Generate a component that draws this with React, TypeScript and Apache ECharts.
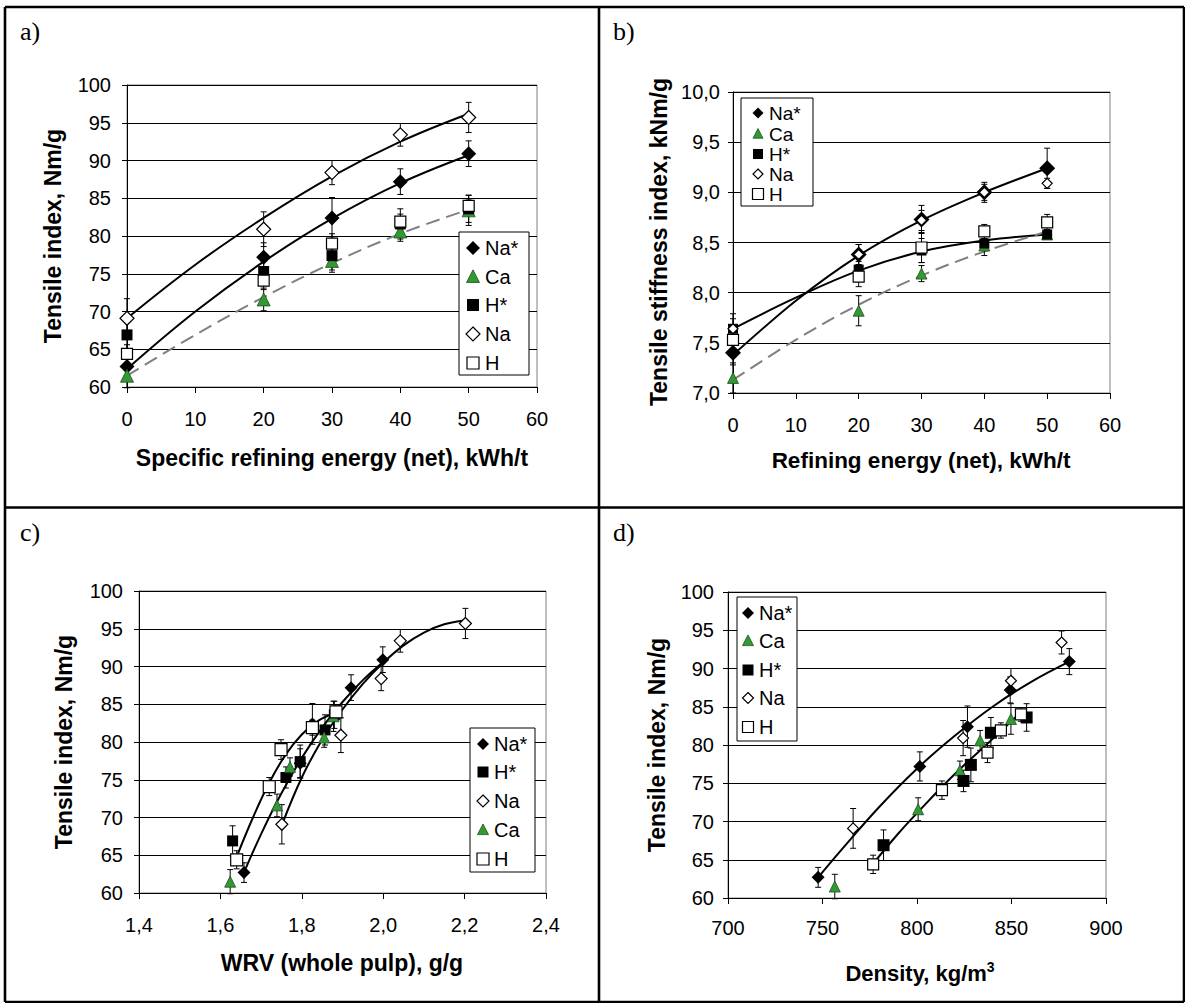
import React, { useEffect, useRef } from "react";
import * as echarts from "echarts";

// ---------------- data ----------------
const energy = [0, 20, 30, 40, 50];

// tensile index, Nm/g
const tiNaStar = [62.7, 77.2, 82.4, 87.2, 90.9];
const tiCa = [61.5, 71.6, 76.7, 80.6, 83.4];
const tiHStar = [66.9, 75.3, 77.4, 81.6, 83.6];
const tiNa = [69.1, 80.9, 88.4, 93.4, 95.7];
const tiH = [64.4, 74.1, 79.0, 81.9, 84.0];

const errTiNaStar = [1.3, 1.9, 2.7, 1.7, 1.7];
const errTiCa = [1.6, 1.5, 1.2, 1.3, 2.0];
const errTiHStar = [2.0, 1.4, 2.2, 2.0, 1.8];
const errTiNa = [2.6, 2.3, 1.6, 1.5, 2.0];
const errTiH = [1.2, 1.2, 1.3, 1.0, 0.9];

// tensile stiffness index, kNm/g
const stNaStar = [7.4, 8.38, 8.73, 9.0, 9.24];
const stCa = [7.15, 7.82, 8.19, 8.47, 8.58];
const stHStar = [7.64, 8.23, 8.42, 8.49, 8.58];
const stNa = [7.64, 8.38, 8.72, 9.0, 9.09];
const stH = [7.53, 8.16, 8.45, 8.61, 8.7];

const errStNaStar = [0.12, 0.1, 0.14, 0.1, 0.2];
const errStCa = [0.15, 0.15, 0.08, 0.1, 0.05];
const errStHStar = [0.1, 0.08, 0.12, 0.05, 0.05];
const errStNa = [0.15, 0.1, 0.1, 0.08, 0.05];
const errStH = [0.1, 0.1, 0.15, 0.07, 0.08];

// WRV (whole pulp), g/g
const wrvNaStar = [1.658, 1.796, 1.826, 1.921, 1.999];
const wrvHStar = [1.63, 1.761, 1.796, 1.857, 1.88];
const wrvNa = [1.751, 1.896, 1.995, 2.042, 2.202];
const wrvCa = [1.624, 1.739, 1.771, 1.855, 1.878];
const wrvH = [1.64, 1.72, 1.749, 1.826, 1.884];

// density, kg/m3
const denNaStar = [747.7, 801.5, 826.7, 849.3, 880.6];
const denCa = [756.5, 800.6, 822.7, 833.4, 849.7];
const denHStar = [782.3, 824.6, 828.5, 839.1, 858.0];
const denNa = [766.2, 824.4, 849.7, 876.5];
const denH = [776.8, 813.2, 837.3, 844.4, 855.0];

// trend curves
const fitAx = [0, 10, 20, 30, 40, 50];
const fitANa = [69.1, 76.2, 82.4, 87.9, 92.5, 96.2];
const fitANaStar = [62.4, 70.0, 76.6, 82.3, 87.0, 90.7];
const fitACa = [61.5, 66.9, 71.9, 76.4, 80.3, 83.5];

const fitBx = [0, 10, 20, 30, 40, 50];
const fitBNaStar = [7.38, 7.92, 8.37, 8.72, 9.0, 9.24];
const fitBHStar = [7.64, 7.95, 8.22, 8.41, 8.52, 8.58];
const fitBCa = [7.13, 7.53, 7.88, 8.17, 8.41, 8.61];

const fitCHx = [1.64, 1.68, 1.72, 1.76, 1.8, 1.84, 1.88];
const fitCHy = [64.8, 70.0, 74.6, 78.3, 81.0, 82.8, 83.8];
const fitCNaStarX = [1.657, 1.7, 1.75, 1.8, 1.85, 1.9, 1.95, 2.0];
const fitCNaStarY = [62.6, 67.8, 73.2, 77.9, 81.9, 85.3, 88.2, 90.6];
const fitCNaX = [1.751, 1.8, 1.85, 1.9, 1.95, 2.0, 2.05, 2.1, 2.15, 2.2];
const fitCNaY = [69.0, 75.3, 80.3, 84.3, 87.7, 90.5, 92.8, 94.5, 95.6, 96.1];

const fitDNaStarX = [747.7, 760, 780, 800, 820, 840, 860, 880.6];
const fitDNaStarY = [62.7, 66.3, 71.9, 76.9, 81.2, 85.0, 88.2, 90.9];
const fitDHX = [776.8, 790, 800, 820, 840, 855];
const fitDHY = [64.5, 68.4, 71.1, 76.2, 80.8, 84.3];

// ---------------- helpers ----------------
const FONT = "'Liberation Sans', Arial, Helvetica, sans-serif";
const SERIF = "'Liberation Serif', 'Times New Roman', serif";
const GREEN = "#339933";

type Kind = "NaStar" | "Ca" | "HStar" | "Na" | "H";

const kindStyle: Record<Kind, any> = {
  NaStar: { symbol: "diamond", itemStyle: { color: "#000", opacity: 1 } },
  Na: { symbol: "diamond", itemStyle: { color: "#fff", borderColor: "#000", borderWidth: 1.2, opacity: 1 } },
  HStar: { symbol: "rect", itemStyle: { color: "#000", opacity: 1 } },
  H: { symbol: "rect", itemStyle: { color: "#fff", borderColor: "#000", borderWidth: 1.2, opacity: 1 } },
  Ca: { symbol: "triangle", itemStyle: { color: GREEN, borderColor: "#1f4f1f", borderWidth: 0.8, opacity: 1 } },
};
const kindName: Record<Kind, string> = { NaStar: "Na*", Ca: "Ca", HStar: "H*", Na: "Na", H: "H" };

function scatter(kind: Kind, xs: number[], ys: number[], gi: number, size: number) {
  return {
    type: "scatter",
    name: kindName[kind],
    xAxisIndex: gi,
    yAxisIndex: gi,
    data: xs.map((x, i) => [x, ys[i]]),
    symbol: kindStyle[kind].symbol,
    symbolSize: size,
    itemStyle: kindStyle[kind].itemStyle,
    z: 4,
    silent: true,
  };
}

function errorBars(groups: [number[], number[], number[]][], gi: number) {
  const rows: number[][] = [];
  groups.forEach(([xs, ys, es]) => {
    xs.forEach((x, i) => rows.push([x, ys[i], es[i]]));
  });
  return {
    type: "custom",
    xAxisIndex: gi,
    yAxisIndex: gi,
    z: 3,
    silent: true,
    data: rows,
    encode: { x: 0, y: 1 },
    renderItem: (params: any, api: any) => {
      const x = api.value(0);
      const y = api.value(1);
      const e = api.value(2);
      const p1 = api.coord([x, y + e]);
      const p2 = api.coord([x, y - e]);
      const st = { stroke: "#000", lineWidth: 1 };
      return {
        type: "group",
        children: [
          { type: "line", shape: { x1: p1[0], y1: p1[1], x2: p2[0], y2: p2[1] }, style: st },
          { type: "line", shape: { x1: p1[0] - 3, y1: p1[1], x2: p1[0] + 3, y2: p1[1] }, style: st },
          { type: "line", shape: { x1: p2[0] - 3, y1: p2[1], x2: p2[0] + 3, y2: p2[1] }, style: st },
        ],
      };
    },
  };
}

function fit(xs: number[], ys: number[], gi: number, dashed = false, smooth = 0.4) {
  return {
    type: "line",
    xAxisIndex: gi,
    yAxisIndex: gi,
    data: xs.map((x, i) => [x, ys[i]]),
    showSymbol: false,
    symbol: "none",
    smooth,
    silent: true,
    z: 2,
    lineStyle: dashed
      ? { color: "#808080", width: 2, type: [14, 7] }
      : { color: "#000", width: 2 },
  };
}

const comma1 = (v: number) => v.toFixed(1).replace(".", ",");

function xAx(gi: number, min: number, max: number, interval: number, fmt?: any, margin = 22) {
  return {
    type: "value",
    gridIndex: gi,
    min,
    max,
    interval,
    axisLine: { show: true, onZero: false, lineStyle: { color: "#000", width: 1 } },
    axisTick: { show: true, length: 6, lineStyle: { color: "#000" } },
    axisLabel: { color: "#000", fontSize: 20, fontFamily: FONT, margin, formatter: fmt, showMinLabel: true, showMaxLabel: true },
    splitLine: { show: false },
  };
}
function yAx(gi: number, min: number, max: number, interval: number, fmt?: any, margin = 16) {
  return {
    type: "value",
    gridIndex: gi,
    min,
    max,
    interval,
    axisLine: { show: true, onZero: false, lineStyle: { color: "#000", width: 1 } },
    axisTick: { show: true, length: 5, lineStyle: { color: "#000" } },
    axisLabel: { color: "#000", fontSize: 20, fontFamily: FONT, margin, formatter: fmt, showMinLabel: true, showMaxLabel: true },
    splitLine: { show: true, lineStyle: { color: "#000", width: 1 } },
  };
}

function legendSymbol(kind: Kind, cx: number, cy: number, s: number) {
  const h = s / 2;
  if (kind === "NaStar" || kind === "Na") {
    return {
      type: "polygon",
      shape: { points: [[cx, cy - h], [cx + h, cy], [cx, cy + h], [cx - h, cy]] },
      style: kind === "NaStar" ? { fill: "#000" } : { fill: "#fff", stroke: "#000", lineWidth: 1.2 },
    };
  }
  if (kind === "Ca") {
    return {
      type: "polygon",
      shape: { points: [[cx, cy - s * 0.55], [cx + h, cy + s * 0.42], [cx - h, cy + s * 0.42]] },
      style: { fill: GREEN, stroke: "#1f4f1f", lineWidth: 0.8 },
    };
  }
  return {
    type: "rect",
    shape: { x: cx - h, y: cy - h, width: s, height: s },
    style: kind === "HStar" ? { fill: "#000" } : { fill: "#fff", stroke: "#000", lineWidth: 1.2 },
  };
}

function legend(
  box: { x: number; y: number; w: number; h: number },
  symX: number,
  textX: number,
  fontSize: number,
  kinds: Kind[],
  ys: number[],
  sizes: number[]
) {
  const els: any[] = [
    {
      type: "rect",
      shape: { x: box.x, y: box.y, width: box.w, height: box.h },
      style: { fill: "#fff", stroke: "#000", lineWidth: 1 },
      z: 10,
    },
  ];
  kinds.forEach((k, i) => {
    els.push({ ...legendSymbol(k, symX, ys[i], sizes[i]), z: 11 });
    els.push({
      type: "text",
      x: textX,
      y: ys[i],
      z: 11,
      style: { text: kindName[k], fontSize, fontFamily: FONT, fill: "#000", align: "left", verticalAlign: "middle" },
    });
  });
  return els;
}

function titleText(text: string, x: number, y: number, rotate = false, size = 23) {
  return {
    type: "text",
    x,
    y,
    rotation: rotate ? Math.PI / 2 : 0,
    z: 10,
    style: { text, fontSize: size, fontWeight: "bold", fontFamily: FONT, fill: "#000", align: "center", verticalAlign: "middle" },
  };
}

function panelLabel(text: string, x: number, y: number) {
  return {
    type: "text",
    x,
    y,
    z: 10,
    style: { text, fontSize: 26, fontFamily: SERIF, fill: "#000", align: "left", verticalAlign: "middle" },
  };
}

function frameLine(x1: number, y1: number, x2: number, y2: number) {
  return { type: "line", z: 20, shape: { x1, y1, x2, y2 }, style: { stroke: "#000", lineWidth: 2.6 } };
}

// ---------------- component ----------------
export default function App() {
  const ref = useRef<HTMLDivElement>(null);

  useEffect(() => {
    if (!ref.current) return;
    const chart = echarts.init(ref.current, undefined, { renderer: "svg" });

    const grids = [
      { left: 127, top: 85, width: 410, height: 302 },
      { left: 733, top: 92, width: 377, height: 301 },
      { left: 139, top: 591, width: 407, height: 302 },
      { left: 728, top: 592, width: 378, height: 306 },
    ].map((g) => ({ ...g, show: true, borderColor: "#808080", borderWidth: 1, backgroundColor: "transparent" }));

    const series: any[] = [
      // ---- a ----
      fit(fitAx, fitANa, 0),
      fit(fitAx, fitANaStar, 0),
      fit(fitAx, fitACa, 0, true),
      errorBars(
        [
          [energy, tiNaStar, errTiNaStar],
          [energy, tiCa, errTiCa],
          [energy, tiHStar, errTiHStar],
          [energy, tiNa, errTiNa],
          [energy, tiH, errTiH],
        ],
        0
      ),
      scatter("NaStar", energy, tiNaStar, 0, 15),
      scatter("Ca", energy, tiCa, 0, 13),
      scatter("HStar", energy, tiHStar, 0, 11),
      scatter("Na", energy, tiNa, 0, 14),
      scatter("H", energy, tiH, 0, 11),
      // ---- b ----
      fit(fitBx, fitBNaStar, 1, false, 0.3),
      fit(fitBx, fitBHStar, 1, false, 0.4),
      fit(fitBx, fitBCa, 1, true),
      errorBars(
        [
          [energy, stNaStar, errStNaStar],
          [energy, stCa, errStCa],
          [energy, stHStar, errStHStar],
          [energy, stNa, errStNa],
          [energy, stH, errStH],
        ],
        1
      ),
      scatter("NaStar", energy, stNaStar, 1, 16),
      scatter("Ca", energy, stCa, 1, 11),
      scatter("HStar", energy, stHStar, 1, 10),
      scatter("Na", energy, stNa, 1, 10),
      scatter("H", energy, stH, 1, 11),
      // ---- c ----
      fit(fitCHx, fitCHy, 2),
      fit(fitCNaStarX, fitCNaStarY, 2),
      fit(fitCNaX, fitCNaY, 2),
      errorBars(
        [
          [wrvNaStar, tiNaStar, errTiNaStar],
          [wrvHStar, tiHStar, errTiHStar],
          [wrvNa, tiNa, errTiNa],
          [wrvCa, tiCa, errTiCa],
          [wrvH, tiH, errTiH],
        ],
        2
      ),
      scatter("NaStar", wrvNaStar, tiNaStar, 2, 13),
      scatter("HStar", wrvHStar, tiHStar, 2, 11),
      scatter("Na", wrvNa, tiNa, 2, 12),
      scatter("Ca", wrvCa, tiCa, 2, 11),
      scatter("H", wrvH, tiH, 2, 12),
      // ---- d ----
      fit(fitDNaStarX, fitDNaStarY, 3),
      fit(fitDHX, fitDHY, 3),
      errorBars(
        [
          [denNaStar, tiNaStar, errTiNaStar],
          [denCa, tiCa, errTiCa],
          [denHStar, tiHStar, errTiHStar],
          [denNa, tiNa.slice(0, denNa.length), errTiNa.slice(0, denNa.length)],
          [denH, tiH, errTiH],
        ],
        3
      ),
      scatter("NaStar", denNaStar, tiNaStar, 3, 13),
      scatter("Ca", denCa, tiCa, 3, 11),
      scatter("HStar", denHStar, tiHStar, 3, 12),
      scatter("Na", denNa, tiNa.slice(0, denNa.length), 3, 11),
      scatter("H", denH, tiH, 3, 11),
    ];

    const graphic: any[] = [
      // frame
      frameLine(5, 7, 1184, 7),
      frameLine(5, 7, 5, 1002),
      frameLine(1184, 7, 1184, 1002),
      frameLine(5, 1002, 1184, 1002),
      frameLine(599, 7, 599, 1002),
      frameLine(5, 507.5, 1184, 507.5),
      // panel labels
      panelLabel("a)", 20, 31),
      panelLabel("b)", 613, 31),
      panelLabel("c)", 20, 532),
      panelLabel("d)", 613, 532),
      // axis titles
      titleText("Tensile index, Nm/g", 53, 236, true),
      titleText("Specific refining energy (net), kWh/t", 332, 458),
      titleText("Tensile stiffness index, kNm/g", 659, 242, true),
      titleText("Refining energy (net), kWh/t", 921, 460, false, 22.5),
      titleText("Tensile index, Nm/g", 64, 742, true),
      titleText("WRV (whole pulp), g/g", 342, 963),
      titleText("Tensile index, Nm/g", 657, 745, true),
      {
        type: "text",
        x: 920,
        y: 973,
        z: 10,
        style: {
          text: "{a|Density, kg/m}{b|3}",
          align: "center",
          verticalAlign: "middle",
          rich: {
            a: { fontSize: 22, fontWeight: "bold", fontFamily: FONT, fill: "#000", lineHeight: 26 },
            b: { fontSize: 14, fontWeight: "bold", fontFamily: FONT, fill: "#000", verticalAlign: "top", lineHeight: 14 },
          },
        },
      },
      // legends
      ...legend({ x: 459, y: 232, w: 70, h: 143 }, 473, 485, 20, ["NaStar", "Ca", "HStar", "Na", "H"], [248, 277, 305, 334, 363], [14, 13, 12, 14, 12]),
      ...legend({ x: 741, y: 98, w: 72, h: 108 }, 758, 769, 19, ["NaStar", "Ca", "HStar", "Na", "H"], [113, 134, 154, 174, 194], [11, 10, 10, 10, 11]),
      ...legend({ x: 470, y: 728, w: 65, h: 144 }, 483, 494, 20, ["NaStar", "HStar", "Na", "Ca", "H"], [744, 772, 801, 830, 859], [12, 11, 12, 11, 12]),
      ...legend({ x: 737, y: 597, w: 60, h: 144 }, 748, 759, 20, ["NaStar", "Ca", "HStar", "Na", "H"], [613, 641, 670, 698, 727], [12, 11, 11, 11, 11]),
    ];

    chart.setOption({
      animation: false,
      backgroundColor: "#fff",
      grid: grids,
      xAxis: [
        xAx(0, 0, 60, 10),
        xAx(1, 0, 60, 10),
        xAx(2, 1.4, 2.4, 0.2, comma1),
        xAx(3, 700, 900, 50, undefined, 20),
      ],
      yAxis: [
        yAx(0, 60, 100, 5),
        yAx(1, 7, 10, 0.5, comma1, 13),
        yAx(2, 60, 100, 5),
        yAx(3, 60, 100, 5, undefined, 14),
      ],
      series,
      graphic,
    });

    return () => chart.dispose();
  }, []);

  return (
    <div
      ref={ref}
      style={{ position: "absolute", left: 0, top: 0, width: 1185, height: 1003, background: "#fff" }}
    />
  );
}
